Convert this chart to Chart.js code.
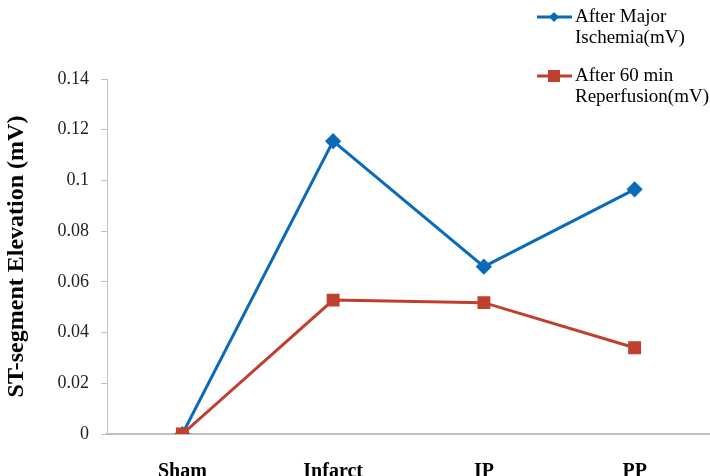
<!DOCTYPE html>
<html>
<head>
<meta charset="utf-8">
<script src="https://cdn.jsdelivr.net/npm/chart.js@4/dist/chart.umd.min.js"></script>
<style>
  html, body { margin: 0; padding: 0; background: #fff; overflow: hidden; }
  #wrap { width: 710px; height: 476px; overflow: hidden; }
</style>
</head>
<body>
<div id="wrap"><canvas id="stChart" width="710" height="492"></canvas></div>
<script>
// ── Data ──────────────────────────────────────────────────────
const groups      = ['Sham', 'Infarct', 'IP', 'PP'];
const ischemia    = [0, 0.1155, 0.0660, 0.0965];
const reperfusion = [0, 0.0528, 0.0518, 0.0340];
const yTicks      = [0, 0.02, 0.04, 0.06, 0.08, 0.1, 0.12, 0.14];
const legendLines = [['After Major', 'Ischemia(mV)'], ['After 60 min', 'Reperfusion(mV)']];

const BLUE  = '#0b6bb8';
const RED   = '#c0402f';
const AXIS  = '#bfbfbf';
const SERIF = '"Liberation Serif", "DejaVu Serif", serif';

// ── Legend drawn at the top right, two lines per entry ───────
const sideLegend = {
  id: 'sideLegend',
  afterDraw(chart) {
    const { ctx } = chart;
    const rows = [17, 76];
    ctx.save();
    chart.data.datasets.forEach((ds, i) => {
      const y = rows[i];
      ctx.strokeStyle = ds.borderColor;
      ctx.lineWidth = 3;
      ctx.beginPath();
      ctx.moveTo(537, y);
      ctx.lineTo(572, y);
      ctx.stroke();
      ctx.fillStyle = ds.pointBackgroundColor;
      if (ds.pointStyle === 'rectRot') {
        ctx.beginPath();
        ctx.moveTo(554, y - 5);
        ctx.lineTo(559, y);
        ctx.lineTo(554, y + 5);
        ctx.lineTo(549, y);
        ctx.closePath();
        ctx.fill();
      } else {
        ctx.fillRect(548, y - 6, 12, 12);
      }
      ctx.fillStyle = '#000';
      ctx.font = '19px ' + SERIF;
      ctx.textBaseline = 'middle';
      ctx.textAlign = 'left';
      legendLines[i].forEach((t, k) => ctx.fillText(t, 575, y + k * 21));
    });
    ctx.restore();
  },
};

new Chart(document.getElementById('stChart'), {
  type: 'line',
  plugins: [sideLegend],
  data: {
    labels: groups,
    datasets: [
      {
        label: legendLines[0].join(' '),
        data: ischemia,
        order: 1, // red series sits on top where the two meet at Sham
        borderColor: BLUE,
        backgroundColor: BLUE,
        pointBackgroundColor: BLUE,
        pointBorderColor: BLUE,
        pointStyle: 'rectRot',
        pointRadius: 6,
        borderWidth: 3,
        tension: 0,
      },
      {
        label: legendLines[1].join(' '),
        data: reperfusion,
        order: 0,
        borderColor: RED,
        backgroundColor: RED,
        pointBackgroundColor: RED,
        pointBorderColor: RED,
        pointStyle: 'rect',
        pointRadius: 7,
        borderWidth: 3,
        tension: 0,
      },
    ],
  },
  options: {
    responsive: false,
    animation: false,
    layout: { autoPadding: false, padding: { top: 79, right: 0, left: 0, bottom: 0 } },
    plugins: { legend: { display: false }, tooltip: { enabled: false } },
    scales: {
      x: {
        offset: true,
        grid: { display: false },
        border: { display: true, color: AXIS, width: 2 },
        ticks: {
          color: '#000',
          padding: 18,
          font: { family: SERIF, size: 20, weight: 'bold' },
        },
        afterFit(scale) {
          scale.height = 58;
          scale.paddingLeft = 0;
          scale.paddingRight = 0;
        },
      },
      y: {
        min: 0,
        max: 0.14,
        afterBuildTicks(scale) { scale.ticks = yTicks.map(v => ({ value: v })); },
        grid: { drawOnChartArea: false, drawTicks: true, tickLength: 6, color: AXIS, lineWidth: 1 },
        border: { display: true, color: AXIS, width: 1 },
        ticks: {
          color: '#222',
          padding: 12,
          font: { family: SERIF, size: 18 },
          callback: (v) => String(Number(v.toFixed(2))),
        },
        title: {
          display: true,
          text: 'ST-segment Elevation (mV)',
          color: '#000',
          padding: { top: 2, bottom: 0 },
          font: { family: SERIF, size: 24, weight: 'bold' },
        },
        afterFit(scale) {
          scale.width = 107;
          scale.paddingTop = 0;
          scale.paddingBottom = 0;
        },
      },
    },
  },
});
</script>
</body>
</html>
